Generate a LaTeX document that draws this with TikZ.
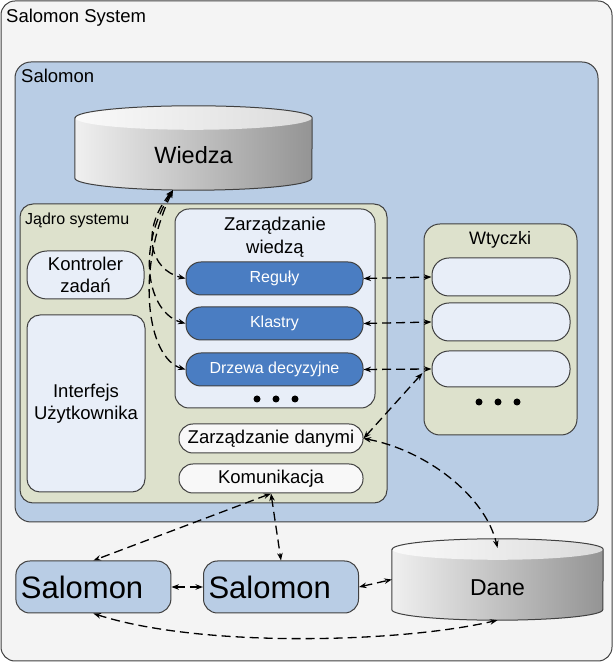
\documentclass[tikz,border=0pt]{standalone}
\usepackage{fontspec}
\setmainfont{Liberation Sans}
\usetikzlibrary{arrows.meta}
\definecolor{sysgray}{HTML}{F4F4F4}
\definecolor{salblue}{HTML}{B9CDE5}
\definecolor{coreol}{HTML}{DDE1CC}
\definecolor{lightbox}{HTML}{E8EEF8}
\definecolor{pillblue}{HTML}{4A7DC2}
\definecolor{edgegray}{HTML}{404040}
% can shape around an empty node: #1 node, #2 x radius, #3 y radius
\newcommand{\dbcan}[3]{%
  \shade[left color=black!6, right color=black!42] ([yshift=-#3]#1.north west) -- ([yshift=#3]#1.south west)
    arc[start angle=180, end angle=360, x radius=#2, y radius=#3] -- ([yshift=-#3]#1.north east)
    arc[start angle=0, end angle=180, x radius=#2, y radius=#3] -- cycle;
  \shade[left color=black!2, right color=black!14] ([yshift=-#3]#1.north) ellipse[x radius=#2, y radius=#3];
  \draw[edgegray, line width=1pt] ([yshift=-#3]#1.north west) -- ([yshift=#3]#1.south west)
    arc[start angle=180, end angle=360, x radius=#2, y radius=#3] -- ([yshift=-#3]#1.north east)
    arc[start angle=0, end angle=180, x radius=#2, y radius=#3] -- cycle;
}
\begin{document}
\begin{tikzpicture}[x=1pt, y=1pt, >={Stealth[length=7.5pt,width=5.5pt]},
	box/.style={draw=edgegray, line width=1pt, inner sep=0pt, align=center},
	cont/.style={box, rounded corners=14pt},
	pill/.style={box, fill=pillblue, text=white, rounded corners=15pt, minimum width=177pt, minimum height=33pt, font=\fontsize{16}{19}\selectfont},
	plug/.style={box, fill=lightbox, rounded corners=17pt, minimum width=138pt},
	wbox/.style={box, fill=sysgray!60!white, rounded corners=14pt, minimum width=184pt, minimum height=29pt, font=\fontsize{18.5}{22}\selectfont},
	sal/.style={box, fill=salblue, rounded corners=14pt, minimum height=52pt, inner xsep=5pt, text width=145pt, align=left, font=\fontsize{31}{36}\selectfont},
	can/.style={inner sep=0pt},
	lbl/.style={anchor=base west, inner sep=0pt, font=\fontsize{18.5}{22}\selectfont},
	arr/.style={<->, dash pattern=on 9pt off 5pt, line width=1.3pt}]
	\useasboundingbox (0,0) rectangle (614,663);
	\node[cont, fill=sysgray, minimum width=611pt, minimum height=660pt] (sys) at (306.5,332) {};
	\node[lbl] (syst) at (6,640.5) {Salomon System};
	\node[cont, fill=salblue, rounded corners=16pt, minimum width=583pt, minimum height=460pt] (salomon) at (306.5,371) {};
	\node[lbl] (salt) at (21,580) {Salomon};
	\node[can, minimum width=237pt, minimum height=84pt] (wiedza) at (193.5,515) {};
	\dbcan{wiedza}{118.5pt}{12pt}
	\node[font=\fontsize{23.5}{28}\selectfont] (wiedzat) at ([yshift=-7pt]wiedza.center) {Wiedza};
	\node[cont, fill=coreol, rounded corners=13pt, minimum width=367pt, minimum height=299pt] (jadro) at (203.5,309.5) {};
	\node[lbl, font=\fontsize{16}{19}\selectfont] (jadrot) at (25,438) {Jądro systemu};
	\node[cont, fill=lightbox, minimum width=200pt, minimum height=199pt] (zw) at (275,354.5) {};
	\node[font=\fontsize{18.5}{23}\selectfont, align=center] (zwt) at (275,426) {Zarządzanie\\wiedzą};
	\node[cont, fill=lightbox, rounded corners=20pt, minimum width=117pt, minimum height=48pt, font=\fontsize{18.5}{22}\selectfont] (kontr) at (85.5,388) {Kontroler\\zadań};
	\node[cont, fill=lightbox, rounded corners=13pt, minimum width=118pt, minimum height=177pt, font=\fontsize{18.5}{22}\selectfont] (ui) at (86,259.5) {Interfejs\\Użytkownika};
	\node[pill] (regu) at (274.5,384.5) {Reguły};
	\node[pill] (klas) at (274.5,339.5) {Klastry};
	\node[pill] (drz) at (274.5,293.5) {Drzewa decyzyjne};
	\foreach \x in {257,276,295} \fill (\x,264) circle (3.5pt);
	\node[wbox] (zdan) at (271,224.5) {Zarządzanie danymi};
	\node[wbox] (kom) at (271,184.5) {Komunikacja};
	\node[cont, fill=coreol, rounded corners=16pt, minimum width=153pt, minimum height=211pt] (wt) at (500.5,333.5) {};
	\node[lbl, anchor=base, font=\fontsize{18}{22}\selectfont] (wtt) at (500,418) {Wtyczki};
	\node[plug, minimum height=38pt] (p1) at (501,386) {};
	\node[plug, minimum height=38pt] (p2) at (501,341) {};
	\node[plug, minimum height=36pt] (p3) at (501,294) {};
	\foreach \x in {479,498,517} \fill (\x,261) circle (3.5pt);
	\node[sal] (sal1) at (93.4,76) {Salomon};
	\node[sal] (sal2) at (281,76) {Salomon};
	\node[can, minimum width=211pt, minimum height=81pt] (dane) at (497.5,83.5) {};
	\dbcan{dane}{105.5pt}{10.5pt}
	\node[font=\fontsize{23}{28}\selectfont] (danet) at ([yshift=-8pt]dane.center) {Dane};
	\draw[arr] ([xshift=-20.5pt]wiedza.south) .. controls (140,433) and (150,393) .. (regu.west);
	\draw[arr] ([xshift=-20.5pt]wiedza.south) .. controls (135,413) and (148,350) .. (klas.west);
	\draw[arr] ([xshift=-20.5pt]wiedza.south) .. controls (135,393) and (147,305) .. (drz.west);
	\draw[arr] (regu.east) -- (p1.west);
	\draw[arr] (klas.east) -- (p2.west);
	\draw[arr] (drz.east) -- (p3.west);
	\draw[arr] (zdan.east) -- ([xshift=-9pt,yshift=-4pt]p3.west);
	\draw[arr] (zdan.east) .. controls (425,213) and (485,168) .. ([yshift=-9pt]dane.north);
	\draw[arr] (kom.south) -- (sal1.north);
	\draw[arr] (kom.south) -- (sal2.north);
	\draw[arr] (sal1.east) -- (sal2.west);
	\draw[arr] (sal2.east) -- (dane.west);
	\draw[arr] (sal1.south) .. controls (200,15) and (400,20) .. (dane.south);
\end{tikzpicture}
\end{document}
